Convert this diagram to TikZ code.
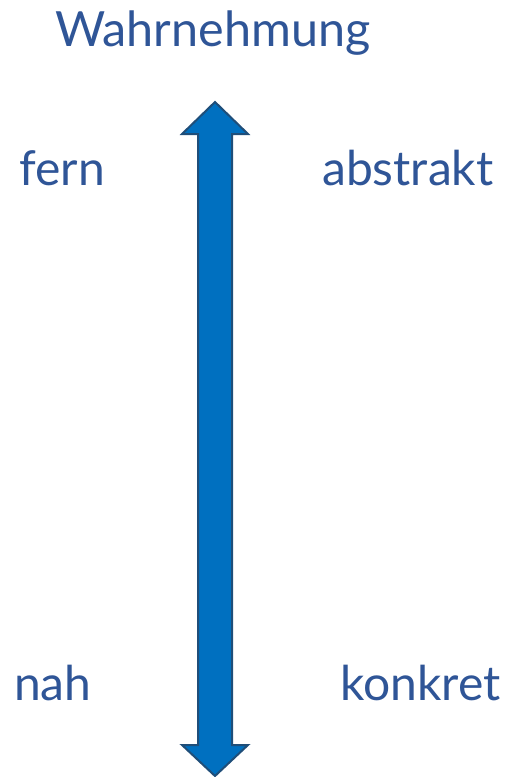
\documentclass[tikz,border=0pt]{standalone}
\usepackage{fontspec}
\setmainfont{Lato}
\usetikzlibrary{calc,positioning}
\definecolor{textblue}{HTML}{2F5597}
\definecolor{arrowfill}{HTML}{0070C0}
\definecolor{arrowline}{HTML}{1F4E79}
\tikzset{
    label/.style={text=textblue,font=\fontsize{48}{52}\selectfont,inner sep=0pt,anchor=base west}
}
\begin{document}
\begin{tikzpicture}[x=1pt,y=-1pt]
    \useasboundingbox (0,0) rectangle (515,777);
    % Define points of the double arrow
    \coordinate (tip) at (215,102);
    \coordinate (bot) at (215,776);
    \coordinate (headL) at (182,134);
    \coordinate (headR) at (248,134);
    \coordinate (footL) at (182,745);
    \coordinate (footR) at (248,745);
    
    % Draw the arrow
    \draw[arrowline,fill=arrowfill,line width=2pt,line join=miter]
        (tip) -- (headR) -- (232,134) -- (232,745) -- (footR) -- (bot)
        -- (footL) -- (198,745) -- (198,134) -- (headL) -- cycle;
    
    % Labels
    \node[label,font=\fontsize{48.5}{52}\selectfont] (title) at (55,46) {Wahrnehmung};
    \node[label] (fern) at (19,185) {fern};
    \node[label] (abstrakt) at (322,185) {abstrakt};
    \node[label] (nah) at (14,700) {nah};
    \node[label] (konkret) at (340,700) {konkret};
\end{tikzpicture}
\end{document}
